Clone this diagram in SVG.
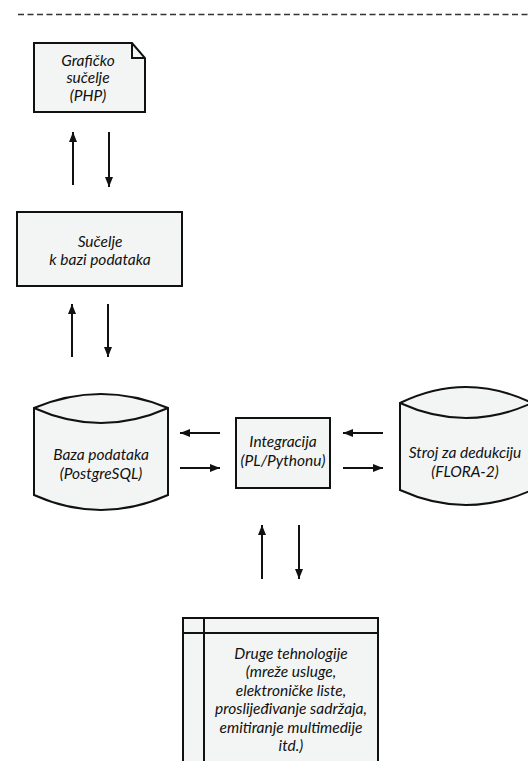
<svg xmlns="http://www.w3.org/2000/svg" width="528" height="761" viewBox="0 0 528 761">
<style>
.shape{fill:#f3f5f4;stroke:#111;stroke-width:2}
.line{fill:none;stroke:#111;stroke-width:2}
.conn{fill:none;stroke:#111;stroke-width:2;marker-end:url(#ah)}
text{font-family:Lato,"Open Sans","Liberation Sans",sans-serif;font-style:italic;font-size:15.5px;fill:#111;text-anchor:middle}
</style>
<defs>
<marker id="ah" markerUnits="userSpaceOnUse" markerWidth="11" markerHeight="9" refX="10" refY="4.5" orient="auto">
<path d="M0,0.5 L10,4.5 L0,8.5 Z" fill="#111"/>
</marker>
</defs>
<rect width="528" height="761" fill="#fff"/>
<line x1="18" y1="14.5" x2="528" y2="14.5" stroke="#333" stroke-width="1.5" stroke-dasharray="6,3.5"/>

<g id="graficko">
<path class="shape" d="M34,43 L132,43 L145,58 L145,112 L34,112 Z"/>
<path class="line" d="M132,43 L132,58 L145,58"/>
<text x="88" y="66">Grafičko</text>
<text x="88" y="83">sučelje</text>
<text x="88" y="101">(PHP)</text>
</g>

<g id="sucelje">
<rect class="shape" x="17" y="212" width="165" height="74"/>
<text x="100" y="247">Sučelje</text>
<text x="100" y="265">k bazi podataka</text>
</g>

<g id="baza">
<path class="shape" d="M34,408 Q101,380 168,408 L168,495 Q101,525 34,495 Z"/>
<path class="line" d="M34,408 Q101,438 168,408"/>
<text x="101" y="460">Baza podataka</text>
<text x="101" y="479">(PostgreSQL)</text>
</g>

<g id="integracija">
<rect class="shape" x="236" y="418" width="94" height="70"/>
<text x="283" y="447">Integracija</text>
<text x="283" y="466">(PL/Pythonu)</text>
</g>

<g id="stroj">
<path class="shape" d="M400,403 Q466,371 532,403 L532,490 Q466,520 400,490 Z"/>
<path class="line" d="M400,403 Q466,433 532,403"/>
<text x="465" y="458">Stroj za dedukciju</text>
<text x="465" y="477">(FLORA-2)</text>
</g>

<g id="druge">
<rect class="shape" x="183" y="618" width="195" height="170"/>
<line class="line" x1="183" y1="633" x2="378" y2="633"/>
<line class="line" x1="204" y1="618" x2="204" y2="790"/>
<text x="291" y="659">Druge tehnologije</text>
<text x="291" y="677">(mreže usluge,</text>
<text x="291" y="696">elektroničke liste,</text>
<text x="291" y="714">proslijeđivanje sadržaja,</text>
<text x="291" y="733">emitiranje multimedije</text>
<text x="291" y="751">itd.)</text>
</g>

<g id="connectors">
<line class="conn" x1="73" y1="185" x2="73" y2="132"/>
<line class="conn" x1="109" y1="132" x2="109" y2="187"/>
<line class="conn" x1="72" y1="357" x2="72" y2="304"/>
<line class="conn" x1="108" y1="304" x2="108" y2="357"/>
<line class="conn" x1="220" y1="433" x2="180" y2="433"/>
<line class="conn" x1="180" y1="468" x2="220" y2="468"/>
<line class="conn" x1="383" y1="433" x2="343" y2="433"/>
<line class="conn" x1="343" y1="468" x2="383" y2="468"/>
<line class="conn" x1="262" y1="579" x2="262" y2="525"/>
<line class="conn" x1="299" y1="525" x2="299" y2="579"/>
</g>
</svg>
